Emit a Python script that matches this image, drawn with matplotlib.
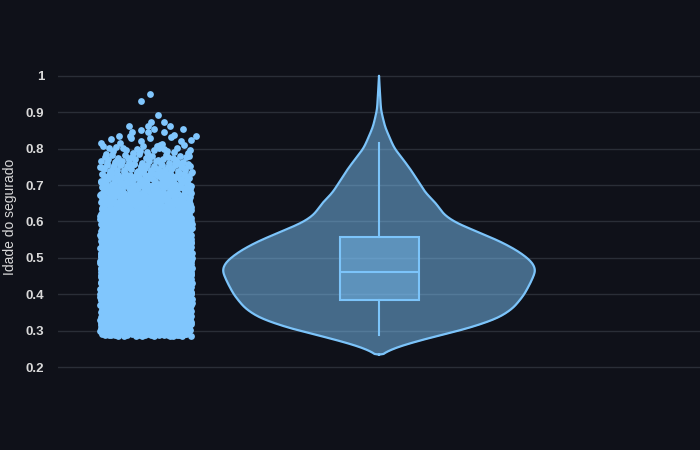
import numpy as np
import matplotlib.pyplot as plt

# --- data ---
# strip points: counts per 0.025-wide bin (bin start values)
bin_starts = [0.285, 0.31, 0.335, 0.36, 0.385, 0.41, 0.435, 0.46, 0.485, 0.51,
              0.535, 0.56, 0.585, 0.61, 0.635, 0.66, 0.685, 0.71, 0.735, 0.76,
              0.785, 0.81]
bin_counts = [130, 150, 170, 180, 185, 190, 195, 195, 190, 180,
              165, 140, 120, 110, 100, 92, 80, 70, 50, 32, 22, 12]
tail_points = [0.835, 0.835, 0.838, 0.845, 0.845, 0.845, 0.85, 0.854, 0.854,
               0.863, 0.863, 0.863, 0.872, 0.872, 0.892, 0.931, 0.95]
tail_x = [-0.81, -0.57, -0.64, -0.77, -0.67, -0.72, -0.74, -0.70, -0.61,
          -0.72, -0.78, -0.65, -0.71, -0.67, -0.69, -0.742, -0.714]

# violin outline: value and half width (in px on the reference)
violin_y = [0.234, 0.236, 0.242, 0.256, 0.279, 0.306, 0.334, 0.361, 0.398,
            0.434, 0.466, 0.489, 0.517, 0.544, 0.572, 0.596, 0.618, 0.650,
            0.677, 0.698, 0.741, 0.778, 0.798, 0.815, 0.860, 0.906, 0.95, 1.0]
violin_hw = [0, 4, 7, 19, 49, 89, 119, 134, 145,
             152, 157, 153, 140, 122, 98, 77, 65, 57,
             47, 42, 32, 22, 16, 13, 6, 2, 1, 0]

# box statistics
q1, median, q3 = 0.383, 0.46, 0.556
whisker_lo, whisker_hi = 0.288, 0.815

y_label = 'Idade do segurado'
y_ticks = [0.2, 0.3, 0.4, 0.5, 0.6, 0.7, 0.8, 0.9, 1.0]
y_tick_labels = ['0.2', '0.3', '0.4', '0.5', '0.6', '0.7', '0.8', '0.9', '1']

bg = '#0f1119'
line_c = '#7cc4fa'
point_c = '#80c6fd'
grid_c = '#2a2e37'
text_c = '#d9d9d9'

plt.rcParams['font.family'] = ['Liberation Sans', 'DejaVu Sans']


def halton(i, base):
    f, r = 1.0, 0.0
    while i > 0:
        f /= base
        r += f * (i % base)
        i //= base
    return r


fig = plt.figure(figsize=(7, 4.5), dpi=100, facecolor=bg)
ax = fig.add_axes([58 / 700, 78 / 450, 642 / 700, 310 / 450])
ax.set_facecolor(bg)
ax.set_xlim(-1, 1)
ax.set_ylim(0.1863, 1.0379)

px = 321.0  # pixels per x unit

# strip points, spread inside each bin with a Halton sequence
ys, xs = [], []
k = 0
for start, n in zip(bin_starts, bin_counts):
    for i in range(n):
        k += 1
        ys.append(start + 0.025 * halton(k, 2))
        xs.append(-0.726 + 0.143 * (2 * halton(k, 3) - 1))
ax.scatter(xs, ys, s=24, color=point_c, linewidths=0, zorder=3)
ax.scatter(tail_x, tail_points, s=24, color=point_c, linewidths=0, zorder=3)

# violin (outline smoothed a little for display)
fine_y = np.linspace(violin_y[0], violin_y[-1], 400)
fine_w = np.interp(fine_y, violin_y, violin_hw)
kern = np.exp(-0.5 * (np.arange(-12, 13) / 5.0) ** 2)
kern /= kern.sum()
pad = np.concatenate([np.zeros(12), fine_w, np.zeros(12)])
fine_w = np.convolve(pad, kern, mode='same')[12:-12]
fine_w[0] = fine_w[-1] = 0
vw = fine_w / px
ax.fill_betweenx(fine_y, -vw, vw, color=line_c, alpha=0.5, linewidth=0, zorder=2)
ax.plot(np.concatenate([-vw, vw[::-1]]), np.concatenate([fine_y, fine_y[::-1]]),
        color=line_c, lw=1.6, zorder=4)

# box
stats = [{'med': median, 'q1': q1, 'q3': q3,
          'whislo': whisker_lo, 'whishi': whisker_hi, 'fliers': []}]
ax.bxp(stats, positions=[0], widths=79 / px, patch_artist=True,
       showcaps=False, showfliers=False, manage_ticks=False,
       boxprops=dict(facecolor=(0.486, 0.769, 0.98, 0.45), edgecolor=line_c, lw=1.5),
       medianprops=dict(color=line_c, lw=1.5),
       whiskerprops=dict(color=line_c, lw=1.5), zorder=5)

ax.set_yticks(y_ticks)
ax.set_yticklabels(y_tick_labels)
ax.set_xticks([])
ax.grid(axis='y', color=grid_c, lw=1)
ax.set_axisbelow(True)
ax.tick_params(axis='y', length=0, pad=10, labelcolor=text_c, labelsize=9.5)
for lab in ax.get_yticklabels():
    lab.set_fontweight('bold')
for s in ax.spines.values():
    s.set_visible(False)
fig.text(10 / 700, 1 - 217 / 450, y_label, color=text_c, fontsize=10,
         rotation=90, ha='center', va='center')

fig.savefig('out.png', dpi=100, facecolor=bg)
